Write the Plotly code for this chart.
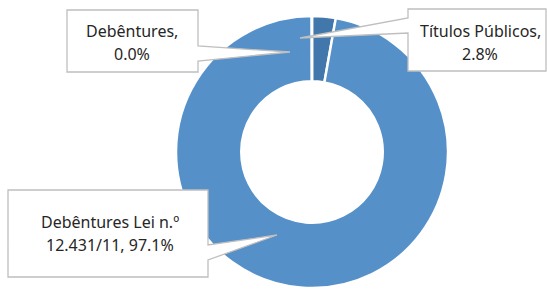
import plotly.graph_objects as go

# Data
labels = ["Títulos Públicos", "Debêntures Lei n.º 12.431/11", "Debêntures"]
values = [2.8, 97.1, 0.03]
pct_labels = ["2.8%", "97.1%", "0.0%"]
colors = ["#4277AB", "#5590C8", "#5590C8"]

W, H = 547, 291


def px(x):
    return x / W


def py(y):
    return 1 - y / H


# donut geometry (pixels)
cx, cy, R = 312, 152, 136

fig = go.Figure()
fig.add_trace(go.Pie(
    labels=labels,
    values=values,
    sort=False,
    direction="clockwise",
    rotation=0,
    hole=0.52,
    marker=dict(colors=colors, line=dict(color="white", width=2.5)),
    textinfo="none",
    hoverinfo="label+percent",
    showlegend=False,
    domain=dict(x=[px(cx - R), px(cx + R)], y=[py(cy + R), py(cy - R)]),
))


def callout(box, wedge):
    x0, y0, x1, y1 = box
    side, a, b, (tx, ty) = wedge
    if side == "right":
        pts = [(x0, y0), (x1, y0), (x1, a), (tx, ty), (x1, b), (x1, y1), (x0, y1)]
    else:
        pts = [(x0, y0), (x1, y0), (x1, y1), (x0, y1), (x0, b), (tx, ty), (x0, a)]
    path = "M " + " L ".join(f"{px(x)},{py(y)}" for x, y in pts) + " Z"
    return dict(type="path", xref="paper", yref="paper", path=path,
                fillcolor="white", line=dict(color="#BFBFBF", width=1.3), layer="above")


shapes = [
    callout((67, 10, 198, 72), ("right", 46, 61, (290, 52))),
    callout((408, 9, 546, 71), ("left", 18, 33, (300, 38))),
    callout((8, 190, 208, 277), ("right", 245, 260, (277, 235))),
]

font = dict(family="Noto Sans, Open Sans, sans-serif", size=16, color="#262626")
ann_lines = [
    (132, 31, labels[2] + ","),
    (132, 54, pct_labels[2]),
    (480, 31, labels[0] + ","),
    (480, 54, pct_labels[0]),
    (110, 222, "Debêntures Lei n.º"),
    (110, 245, "12.431/11, " + pct_labels[1]),
]
annotations = [
    dict(x=px(x), y=py(y), xref="paper", yref="paper", text=t, showarrow=False,
         xanchor="center", yanchor="middle", font=font)
    for x, y, t in ann_lines
]

fig.update_layout(
    width=W, height=H,
    margin=dict(l=0, r=0, t=0, b=0),
    paper_bgcolor="white", plot_bgcolor="white",
    shapes=shapes, annotations=annotations,
)

fig.write_html(
    "out.html",
    config={"displayModeBar": False},
    post_script="document.body.style.margin='0';document.body.style.overflow='hidden';",
)
